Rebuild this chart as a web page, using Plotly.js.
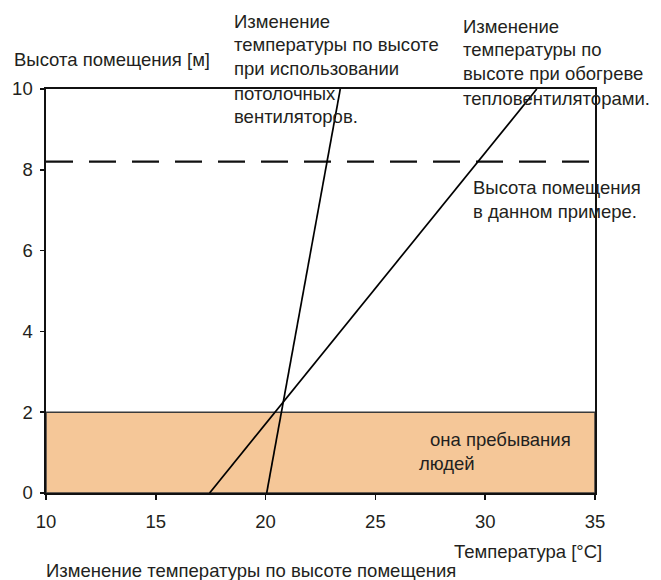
<!DOCTYPE html>
<html>
<head>
<meta charset="utf-8">
<script src="https://cdn.plot.ly/plotly-3.0.1.min.js"></script>
<style>html,body{margin:0;padding:0;background:#fff;}#chart{width:661px;height:580px;}</style>
</head>
<body>
<div id="chart"></div>
<script>
// Data
const xTicks = [10, 15, 20, 25, 30, 35];
const yTicks = [0, 2, 4, 6, 8, 10];
const fanLineX = [20.05, 23.4];
const fanLineY = [0, 10];
const heaterLineX = [17.45, 32.35];
const heaterLineY = [0, 10];
const roomHeightX = [10, 35];
const roomHeightY = [8.2, 8.2];
const zoneX = [10, 35, 35, 10, 10];
const zoneY = [0, 0, 2, 2, 0];

const FONT = 'Liberation Sans, Arial, sans-serif';
const TXT = '#231f20';
const FS = 18.5;

const traces = [
  {x: zoneX, y: zoneY, type: 'scatter', mode: 'lines', fill: 'toself',
   fillcolor: '#f5c798', line: {color: '#3a3a3a', width: 1.5}, hoverinfo: 'skip'},
  {x: roomHeightX, y: roomHeightY, type: 'scatter', mode: 'lines',
   line: {color: '#111', width: 2.2, dash: '27px,16px'}},
  {x: fanLineX, y: fanLineY, type: 'scatter', mode: 'lines',
   line: {color: '#000', width: 1.7}},
  {x: heaterLineX, y: heaterLineY, type: 'scatter', mode: 'lines',
   line: {color: '#000', width: 1.7}}
];

// plot area pixel geometry helpers for annotation placement
const L = 46, R = 595, T = 89, B = 493;
function px(x) { return (x - L) / (R - L); }
function py(y) { return (B - y) / (B - T); }
function ann(text, x, y, xanchor) {
  return {text: text, xref: 'paper', yref: 'paper', x: px(x), y: py(y),
    xanchor: xanchor || 'left', yanchor: 'middle', showarrow: false,
    font: {family: FONT, size: FS, color: TXT}};
}

const annotations = [
  ann('Высота помещения [м]', 12, 60),
  ann('Изменение', 232, 21),
  ann('температуры по высоте', 232, 45),
  ann('при использовании', 232, 69),
  ann('потолочных', 232, 93),
  ann('вентиляторов.', 232, 117),
  ann('Изменение', 461, 26),
  ann('температуры по', 461, 50),
  ann('высоте при обогреве', 461, 74),
  ann('тепловентиляторами.', 461, 98),
  ann('Высота помещения', 471, 187),
  ann('в данном примере.', 471, 211),
  ann('она пребывания', 428, 439),
  ann('людей', 417, 463),
  ann('Температура [°C]', 604, 551, 'right'),
  ann('Изменение температуры по высоте помещения', 44, 570)
];

const layout = {
  width: 661, height: 580,
  margin: {l: L, r: 661 - R, t: T, b: 580 - B, pad: 0},
  paper_bgcolor: '#fff', plot_bgcolor: '#fff',
  showlegend: false,
  font: {family: FONT, size: FS, color: TXT},
  xaxis: {range: [10, 35], tickvals: xTicks, ticktext: xTicks.map(String),
    showgrid: false, zeroline: false, showline: true, mirror: true,
    linecolor: '#111', linewidth: 1.6, ticks: 'outside', ticklen: 5,
    tickcolor: '#111', tickwidth: 1.6, fixedrange: true, ticklabelstandoff: 6,
    tickfont: {family: FONT, size: FS, color: TXT}},
  yaxis: {range: [0, 10], tickvals: yTicks, ticktext: yTicks.map(String),
    showgrid: false, zeroline: false, showline: true, mirror: true,
    linecolor: '#111', linewidth: 1.6, ticks: 'outside', ticklen: 4,
    tickcolor: '#111', tickwidth: 1.6, fixedrange: true, ticklabelstandoff: 4,
    tickfont: {family: FONT, size: FS, color: TXT}},
  annotations: annotations
};

Plotly.newPlot('chart', traces, layout, {staticPlot: true, displayModeBar: false});
</script>
</body>
</html>
